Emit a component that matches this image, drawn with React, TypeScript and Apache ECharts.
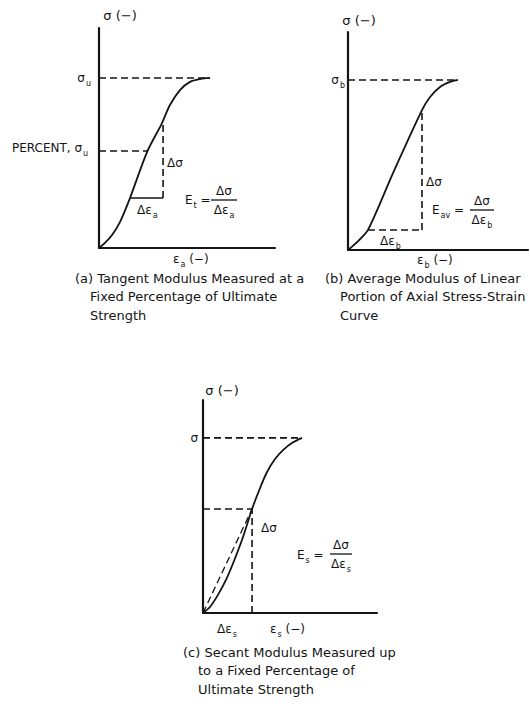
import { useEffect, useRef } from "react";
import * as echarts from "echarts";

// (a) Tangent modulus — strain / stress readings of the stress–strain curve
const strainA = [0, 3.4, 7.4, 11.9, 17.6, 27.3, 35.8, 40.3, 46.0, 51.7, 57.4, 63.1];
const stressA = [0, 2.3, 5.9, 11.8, 22.7, 43.6, 56.8, 65.0, 71.8, 75.5, 76.8, 77.3];
const ultimateA = 77.3;
const percentA = 44.1;
const percentStrainA = 27.3;
const tangentStrainA = [17.6, 36.4];
const tangentStressA = [22.7, 56.8];

// (b) Average modulus of the linear portion
const strainB = [0, 5.6, 11.1, 25.0, 41.1, 45.6, 51.1, 56.7, 61.1];
const stressB = [0, 4.1, 9.2, 35.3, 64.2, 70.2, 74.8, 77.1, 78.0];
const ultimateB = 78.0;
const chordStrainB = [11.1, 41.1];
const chordStressB = [9.2, 64.2];

// (c) Secant modulus up to a fixed percentage of ultimate strength
const strainC = [0, 4.0, 8.6, 13.2, 17.8, 23.0, 28.2, 32.8, 36.8, 41.4, 46.0, 51.1, 56.9];
const stressC = [0, 2.8, 8.5, 15.5, 24.4, 35.7, 48.8, 58.7, 66.2, 72.3, 76.5, 79.8, 82.2];
const ultimateC = 82.2;
const secantStrainC = 28.2;
const secantStressC = 48.8;

const captionA = ["(a) Tangent Modulus Measured at a", "Fixed Percentage of Ultimate", "Strength"];
const captionB = ["(b) Average Modulus of Linear", "Portion of Axial Stress-Strain", "Curve"];
const captionC = ["(c) Secant Modulus Measured up", "to a Fixed Percentage of", "Ultimate Strength"];

const INK = "#141414";
const FONT = "'DejaVu Sans', 'Liberation Sans', sans-serif";

const zip = (xs: number[], ys: number[]) => xs.map((x, i) => [x, ys[i]]);

const rich = {
  m: { fontSize: 12, lineHeight: 18, fontFamily: FONT, fill: INK },
  s: { fontSize: 8, lineHeight: 12, verticalAlign: "bottom", fontFamily: FONT, fill: INK, padding: [0, 0, 0, 1] },
};

function label(x: number, y: number, text: string, align = "left", size = 12) {
  return {
    type: "text",
    x,
    y,
    style: {
      text,
      rich: { ...rich, m: { ...rich.m, fontSize: size } },
      align,
      verticalAlign: "middle",
      fill: INK,
      font: `${size}px ${FONT}`,
    },
    silent: true,
  };
}

function fraction(cx: number, cy: number, w: number, top: string, bottom: string) {
  return {
    type: "group",
    children: [
      label(cx, cy - 9, top, "center"),
      {
        type: "line",
        shape: { x1: cx - w / 2, y1: cy, x2: cx + w / 2, y2: cy },
        style: { stroke: INK, lineWidth: 1.3 },
      },
      label(cx, cy + 10, bottom, "center"),
    ],
  };
}

function caption(x: number, y: number, lines: string[]) {
  return lines.map((t, i) => ({
    type: "text",
    x: i === 0 ? x : x + 15,
    y: y + i * 18.5,
    style: { text: t, font: `13px ${FONT}`, fill: INK, verticalAlign: "middle" },
    silent: true,
  }));
}

function seg(idx: number, pts: number[][], dashed: boolean, width = 1.6) {
  return {
    type: "line",
    xAxisIndex: idx,
    yAxisIndex: idx,
    data: pts,
    symbol: "none",
    silent: true,
    lineStyle: { color: INK, width, type: dashed ? [7, 4] : "solid" },
  };
}

function curve(idx: number, pts: number[][]) {
  return {
    type: "line",
    xAxisIndex: idx,
    yAxisIndex: idx,
    data: pts,
    symbol: "none",
    smooth: 0.3,
    silent: true,
    lineStyle: { color: INK, width: 1.8 },
  };
}

const axisBase = {
  type: "value",
  min: 0,
  max: 100,
  axisLine: { show: true, lineStyle: { color: INK, width: 2.2 } },
  axisTick: { show: false },
  axisLabel: { show: false },
  splitLine: { show: false },
};

export default function App() {
  const ref = useRef<HTMLDivElement>(null);

  useEffect(() => {
    if (!ref.current) return;
    const chart = echarts.init(ref.current, undefined, { renderer: "svg" });

    const option = {
      animation: false,
      backgroundColor: "#ffffff",
      grid: [
        { left: 99, top: 28, width: 176, height: 220 },
        { left: 348, top: 32, width: 180, height: 218 },
        { left: 203, top: 400, width: 174, height: 213 },
      ],
      xAxis: [0, 1, 2].map((i) => ({ ...axisBase, gridIndex: i })),
      yAxis: [0, 1, 2].map((i) => ({ ...axisBase, gridIndex: i })),
      series: [
        // (a)
        curve(0, zip(strainA, stressA)),
        seg(0, [[0, ultimateA], [strainA[strainA.length - 1], ultimateA]], true),
        seg(0, [[0, percentA], [percentStrainA, percentA]], true),
        seg(0, [[tangentStrainA[0], tangentStressA[0]], [tangentStrainA[1], tangentStressA[0]]], false),
        seg(0, [[tangentStrainA[1], tangentStressA[0]], [tangentStrainA[1], tangentStressA[1]]], true),
        // (b)
        curve(1, zip(strainB, stressB)),
        seg(1, [[0, ultimateB], [strainB[strainB.length - 1], ultimateB]], true),
        seg(1, [[chordStrainB[0], chordStressB[0]], [chordStrainB[1], chordStressB[0]]], true),
        seg(1, [[chordStrainB[1], chordStressB[0]], [chordStrainB[1], chordStressB[1]]], true),
        // (c)
        curve(2, zip(strainC, stressC)),
        seg(2, [[0, ultimateC], [strainC[strainC.length - 1], ultimateC]], true),
        seg(2, [[0, secantStressC], [secantStrainC, secantStressC]], true),
        seg(2, [[secantStrainC, 0], [secantStrainC, secantStressC]], true),
        seg(2, [[0, 0], [secantStrainC, secantStressC]], true, 1.3),
      ],
      graphic: [
        // (a) labels
        label(120, 15, "{m|σ (−)}", "center", 13),
        label(91, 78, "{m|σ}{s|u}", "right"),
        label(12, 148, "{m|PERCENT, σ}{s|u}", "left"),
        label(167, 163, "{m|Δσ}", "left"),
        label(137, 210, "{m|Δε}{s|a}", "left"),
        label(185, 200, "{m|E}{s|t}{m| =}", "left"),
        fraction(224, 200, 26, "{m|Δσ}", "{m|Δε}{s|a}"),
        label(173, 259, "{m|ε}{s|a}{m| (−)}", "left"),
        // (b) labels
        label(359, 20, "{m|σ (−)}", "center", 13),
        label(345, 80, "{m|σ}{s|b}", "right"),
        label(426, 182, "{m|Δσ}", "left"),
        label(432, 210, "{m|E}{s|av}{m| =}", "left"),
        fraction(482, 210, 24, "{m|Δσ}", "{m|Δε}{s|b}"),
        label(380, 241, "{m|Δε}{s|b}", "left"),
        label(417, 260, "{m|ε}{s|b}{m| (−)}", "left"),
        // (c) labels
        label(222, 390, "{m|σ (−)}", "center", 13),
        label(198, 438, "{m|σ}", "right"),
        label(261, 528, "{m|Δσ}", "left"),
        label(297, 555, "{m|E}{s|s}{m| =}", "left"),
        fraction(341, 554, 22, "{m|Δσ}", "{m|Δε}{s|s}"),
        label(217, 629, "{m|Δε}{s|s}", "left"),
        label(270, 629, "{m|ε}{s|s}{m| (−)}", "left"),
        // captions
        ...caption(75, 278, captionA),
        ...caption(325, 278, captionB),
        ...caption(183, 652, captionC),
      ],
    };

    chart.setOption(option as any);
    return () => chart.dispose();
  }, []);

  return (
    <div
      ref={ref}
      style={{ position: "fixed", left: 0, top: 0, width: 530, height: 707, background: "#fff" }}
    />
  );
}
